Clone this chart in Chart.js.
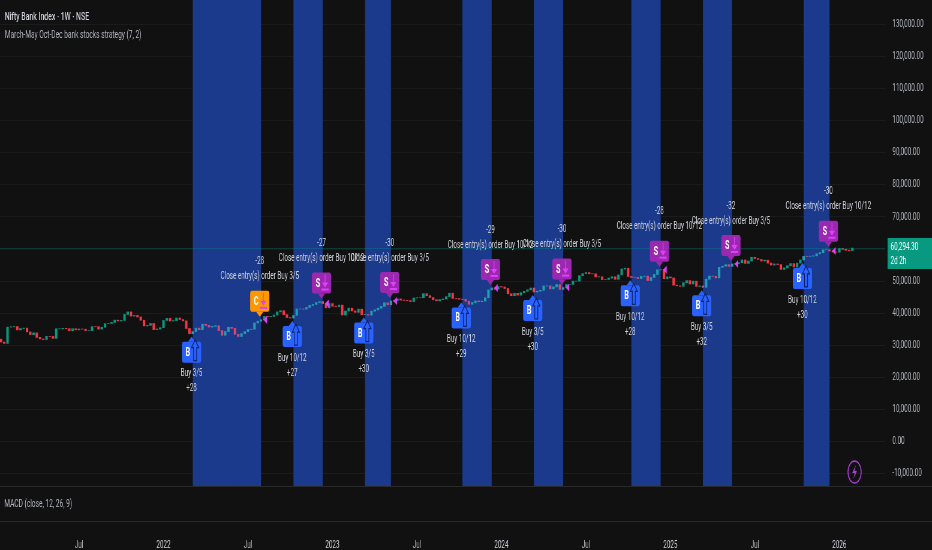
<!DOCTYPE html>
<html>
<head>
<meta charset="utf-8">
<title>Nifty Bank Index 1W</title>
<script src="https://cdn.jsdelivr.net/npm/chart.js@4.4.1/dist/chart.umd.min.js"></script>
<style>
  html, body { margin: 0; padding: 0; background: #111111; overflow: hidden; }
  #wrap { width: 932px; height: 550px; overflow: hidden; }
  /* the reference is horizontally condensed, so the chart is drawn wide and squeezed */
  #chart { display: block; transform: scaleX(0.5997); transform-origin: 0 0; }
</style>
</head>
<body>
<div id="wrap"><canvas id="chart" width="1554" height="550"></canvas></div>
<script>
// weekly closes, one per week starting 2021-01-18
const firstOpen = 31900;
const closes = [
  // 2021
  31000, 30570, 35650, 35750, 35840, 34800, 35230, 35340, 34160, 33320,
  33860, 32450, 31980, 31780, 32780, 32740, 32170, 35140, 35140, 35290,
  35170, 34560, 35160, 34810, 35070, 35020, 34580, 34580, 35810, 35800,
  35030, 35620, 36740, 36800, 37120, 37830, 37580, 37750, 39600, 40400,
  39100, 39300, 38830, 37800, 36030, 36200, 36800, 34860, 35050, 35480,
  // 2022
  37740, 38370, 37570, 37690, 38490, 38020, 37600, 35230, 33600, 34270,
  35330, 34860, 36570, 36200, 35690, 35860, 36090, 34590, 33120, 34280,
  35610, 35270, 33400, 32740, 33630, 34250, 34920, 35000, 36950, 37490,
  37920, 38990, 38900, 38990, 39420, 40420, 40780, 39550, 38630, 38490,
  39300, 41300, 41300, 41260, 41780, 42440, 42730, 43340, 43630, 42990,
  41670, 42990,
  // 2023
  42190, 42080, 42510, 39440, 40670, 41560, 40700, 40260, 41250, 39560,
  39600, 39400, 40610, 41040, 41560, 42120, 43230, 42660, 43790, 43970,
  44440, 44080, 43990, 43940, 43620, 44750, 44820, 44820, 46080, 45470,
  44880, 44200, 43850, 44230, 44440, 45160, 46230, 44610, 44580, 44360,
  44290, 43750, 42780, 43320, 43820, 43580, 43770, 44810, 47260, 47870,
  47490, 48290,
  // 2024
  48160, 47710, 46060, 45440, 46200, 45630, 46380, 46810, 47290, 47840,
  46600, 46860, 47120, 48490, 48560, 47570, 48200, 48920, 47420, 47980,
  48970, 48980, 50000, 50000, 51700, 52340, 52660, 52280, 52270, 51300,
  51350, 50480, 50520, 50930, 51350, 50580, 51940, 53790, 54000, 51460,
  51170, 51160, 50790, 51480, 51560, 50180, 51140, 52060, 53510, 53580,
  50760, 51310, 50990,
  // 2025
  48730, 48540, 48370, 49510, 50160, 49100, 49980, 48340, 48500, 48060,
  50590, 51560, 51500, 51000, 54290, 54660, 55120, 54600, 55350, 55400,
  55750, 56580, 55530, 56250, 57440, 57030, 56750, 56280, 56530, 55620,
  55000, 55340, 55150, 53650, 54110, 54800, 55460, 54390, 55590, 56600,
  57710, 57700, 57780, 57880, 58520, 58870, 59750, 59780, 59390, 59070,
  59010, 60150,
  // 2026
  59900, 59600, 59500, 60294.30
];

// strategy trades (week index of entry / exit)
const entryWeeks = [59, 90, 112, 142, 164, 194, 216, 247];
const exitWeeks = [80, 99, 120, 151, 173, 203, 225, 255];
const orderNames = ['Buy 3/5', 'Buy 10/12', 'Buy 3/5', 'Buy 10/12', 'Buy 3/5', 'Buy 10/12', 'Buy 3/5', 'Buy 10/12'];
const orderQty = [28, 27, 30, 29, 30, 28, 32, 30];
const exitKinds = ['C', 'S', 'S', 'S', 'S', 'S', 'S', 'S'];

// axes
const priceTicks = [-10000, 0, 10000, 20000, 30000, 40000, 50000, 60000, 70000,
  80000, 90000, 100000, 110000, 120000, 130000];
const tickWeeks = [24, 50, 76, 102, 128, 154, 180, 206, 232, 258];
const tickLabels = ['Jul', '2022', 'Jul', '2023', 'Jul', '2024', 'Jul', '2025', 'Jul', '2026'];

const UP = '#089981';
const DOWN = '#f23645';
const UP_IN = '#1f9fb0';   // candles seen through the position band
const DOWN_IN = '#d9476f';
const BAND = '#1c3a8c';
const TEXT = '#d1d4dc';
const AXIS_TEXT = '#b2b5be';
const GRID = '#1b1b1b';
const PANE_BOTTOM = 486;
const FONT = 'Roboto';

Chart.defaults.font.family = FONT;

const candles = closes.map((c, i) => ({ x: i, y: [i ? closes[i - 1] : firstOpen, c] }));

function inPosition(i) {
  return entryWeeks.some((e, k) => i >= e && i <= exitWeeks[k]);
}

function roundRect(ctx, x, y, w, h, r) {
  ctx.beginPath();
  ctx.moveTo(x + r, y);
  ctx.lineTo(x + w - r, y);
  ctx.quadraticCurveTo(x + w, y, x + w, y + r);
  ctx.lineTo(x + w, y + h - r);
  ctx.quadraticCurveTo(x + w, y + h, x + w - r, y + h);
  ctx.lineTo(x + r, y + h);
  ctx.quadraticCurveTo(x, y + h, x, y + h - r);
  ctx.lineTo(x, y + r);
  ctx.quadraticCurveTo(x, y, x + r, y);
  ctx.closePath();
}

function drawEntry(ctx, cx, tip, k) {
  ctx.fillStyle = '#2962ff';
  ctx.beginPath();
  ctx.moveTo(cx, tip);
  ctx.lineTo(cx + 6, tip + 5);
  ctx.lineTo(cx - 6, tip + 5);
  ctx.closePath();
  ctx.fill();
  roundRect(ctx, cx - 16, tip + 5, 32, 21, 3);
  ctx.fill();

  ctx.fillStyle = '#ffffff';
  ctx.font = 'bold 12px ' + FONT;
  ctx.textAlign = 'center';
  ctx.textBaseline = 'middle';
  ctx.fillText('B', cx - 6, tip + 16);

  // up arrow outline
  const ax = cx + 6;
  ctx.strokeStyle = '#0d2060';
  ctx.lineWidth = 1.2;
  ctx.beginPath();
  ctx.moveTo(ax, tip + 3);
  ctx.lineTo(ax + 6, tip + 11);
  ctx.lineTo(ax + 2.5, tip + 11);
  ctx.lineTo(ax + 2.5, tip + 24);
  ctx.lineTo(ax - 2.5, tip + 24);
  ctx.lineTo(ax - 2.5, tip + 11);
  ctx.lineTo(ax - 6, tip + 11);
  ctx.closePath();
  ctx.stroke();

  ctx.fillStyle = TEXT;
  ctx.font = '10.5px ' + FONT;
  ctx.fillText(orderNames[k], cx, tip + 37);
  ctx.fillText('+' + orderQty[k], cx, tip + 52);
}

function drawExit(ctx, cx, tip, k) {
  const kind = exitKinds[k];
  ctx.fillStyle = kind === 'C' ? '#ff9800' : '#9c27b0';
  ctx.beginPath();
  ctx.moveTo(cx, tip);
  ctx.lineTo(cx + 6, tip - 5);
  ctx.lineTo(cx - 6, tip - 5);
  ctx.closePath();
  ctx.fill();
  roundRect(ctx, cx - 16, tip - 26, 32, 21, 3);
  ctx.fill();

  ctx.fillStyle = '#ffffff';
  ctx.font = 'bold 12px ' + FONT;
  ctx.textAlign = 'center';
  ctx.textBaseline = 'middle';
  ctx.fillText(kind, cx - 6, tip - 15);

  // exit icon: arrow down into a tray
  const ax = cx + 6;
  ctx.strokeStyle = '#e040fb';
  ctx.fillStyle = '#e040fb';
  ctx.lineWidth = 1.4;
  ctx.beginPath();
  ctx.moveTo(ax, tip - 24);
  ctx.lineTo(ax, tip - 15);
  ctx.stroke();
  ctx.beginPath();
  ctx.moveTo(ax - 5, tip - 16);
  ctx.lineTo(ax + 5, tip - 16);
  ctx.lineTo(ax, tip - 11);
  ctx.closePath();
  ctx.fill();
  ctx.fillRect(ax - 6, tip - 10, 12, 2);

  ctx.fillStyle = TEXT;
  ctx.font = '10.5px ' + FONT;
  ctx.fillText('Close entry(s) order ' + orderNames[k], cx, tip - 40);
  ctx.fillText('-' + orderQty[k], cx, tip - 55);
}

const overlay = {
  id: 'overlay',
  beforeDatasetsDraw(chart) {
    const { ctx, chartArea, scales: { x } } = chart;
    ctx.save();
    ctx.fillStyle = BAND;
    entryWeeks.forEach((e, k) => {
      const x1 = x.getPixelForValue(e);
      const x2 = x.getPixelForValue(exitWeeks[k]);
      ctx.fillRect(x1, chartArea.top, x2 - x1, PANE_BOTTOM - chartArea.top);
    });
    ctx.restore();
  },
  afterDatasetsDraw(chart) {
    const { ctx, chartArea, width, scales: { x, y } } = chart;
    ctx.save();

    // last price line
    const last = closes[closes.length - 1];
    const ly = Math.round(y.getPixelForValue(last)) + 0.5;
    ctx.strokeStyle = 'rgba(8,153,129,0.3)';
    ctx.lineWidth = 1;
    ctx.beginPath();
    ctx.moveTo(chartArea.left, ly);
    ctx.lineTo(chartArea.right, ly);
    ctx.stroke();

    // small close triangles at the exit bars
    ctx.fillStyle = '#e040fb';
    exitWeeks.forEach(w => {
      const px = x.getPixelForValue(w) + 4;
      const py = y.getPixelForValue(closes[w]);
      ctx.beginPath();
      ctx.moveTo(px, py);
      ctx.lineTo(px + 6, py - 4);
      ctx.lineTo(px + 6, py + 4);
      ctx.closePath();
      ctx.fill();
    });

    // trade markers
    entryWeeks.forEach((w, k) => {
      const low = Math.min(candles[w].y[0], candles[w].y[1]);
      drawEntry(ctx, x.getPixelForValue(w) - 2, y.getPixelForValue(low) + 3, k);
    });
    exitWeeks.forEach((w, k) => {
      const high = Math.max(candles[w].y[0], candles[w].y[1]);
      drawExit(ctx, x.getPixelForValue(w) - 2, y.getPixelForValue(high) - 3, k);
    });

    // pane separators
    ctx.strokeStyle = '#2a2a2a';
    ctx.lineWidth = 1;
    ctx.beginPath();
    ctx.moveTo(0, PANE_BOTTOM + 0.5);
    ctx.lineTo(width, PANE_BOTTOM + 0.5);
    ctx.moveTo(0, chartArea.bottom + 0.5);
    ctx.lineTo(width, chartArea.bottom + 0.5);
    ctx.stroke();

    // titles
    ctx.textAlign = 'left';
    ctx.textBaseline = 'middle';
    ctx.fillStyle = TEXT;
    ctx.font = '500 11.5px ' + FONT;
    ctx.fillText('Nifty Bank Index \u00b7 1W \u00b7 NSE', 8, 17);
    ctx.fillStyle = AXIS_TEXT;
    ctx.font = '11px ' + FONT;
    ctx.fillText('March-May Oct-Dec bank stocks strategy (7, 2)', 8, 35);
    ctx.fillText('MACD (close, 12, 26, 9)', 7, 504);

    // last price label
    ctx.fillStyle = UP;
    ctx.fillRect(chartArea.right + 4, ly - 10.5, width - chartArea.right - 4, 31);
    ctx.fillStyle = '#ffffff';
    ctx.font = '10.5px ' + FONT;
    ctx.fillText(last.toLocaleString('en-US', { minimumFractionDigits: 2, maximumFractionDigits: 2 }), chartArea.right + 9, ly - 1);
    ctx.fillText('2d 2h', chartArea.right + 9, ly + 13);

    // lightning badge
    const cx = 1425, cy = 472;
    ctx.strokeStyle = '#a83fd0';
    ctx.lineWidth = 1.5;
    ctx.beginPath();
    ctx.arc(cx, cy, 11, 0, Math.PI * 2);
    ctx.stroke();
    ctx.fillStyle = '#a83fd0';
    ctx.beginPath();
    ctx.moveTo(cx + 2, cy - 7);
    ctx.lineTo(cx - 4, cy + 1);
    ctx.lineTo(cx, cy + 1);
    ctx.lineTo(cx - 2, cy + 7);
    ctx.lineTo(cx + 4, cy - 1);
    ctx.lineTo(cx, cy - 1);
    ctx.closePath();
    ctx.fill();

    ctx.restore();
  }
};

new Chart(document.getElementById('chart'), {
  type: 'bar',
  data: {
    datasets: [{
      data: candles,
      backgroundColor: c => {
        if (!c.raw) return UP;
        const up = c.raw.y[1] >= c.raw.y[0];
        if (inPosition(c.raw.x)) return up ? UP_IN : DOWN_IN;
        return up ? UP : DOWN;
      },
      barThickness: 3.4,
      borderWidth: 0,
      grouped: false
    }]
  },
  options: {
    responsive: false,
    animation: false,
    layout: { padding: 0 },
    plugins: { legend: { display: false }, tooltip: { enabled: false } },
    scales: {
      x: {
        type: 'linear',
        offset: false,
        min: -0.31,
        max: 272.1,
        afterBuildTicks: s => { s.ticks = tickWeeks.map(v => ({ value: v })); },
        afterFit: s => { s.height = 29; s.paddingLeft = 0; s.paddingRight = 0; },
        grid: { display: false },
        border: { display: false },
        ticks: {
          color: c => (tickLabels[c.index] === 'Jul' ? AXIS_TEXT : TEXT),
          font: { size: 10.5 },
          padding: 10,
          autoSkip: false,
          maxRotation: 0,
          callback: v => tickLabels[tickWeeks.indexOf(v)]
        }
      },
      y: {
        position: 'right',
        min: -24780,
        max: 137630,
        afterBuildTicks: s => { s.ticks = priceTicks.map(v => ({ value: v })); },
        afterFit: s => { s.width = 78; s.paddingTop = 0; s.paddingBottom = 0; },
        grid: { color: GRID, drawTicks: false },
        border: { display: false },
        ticks: {
          color: AXIS_TEXT,
          font: { size: 10.5 },
          padding: 12,
          callback: v => v.toLocaleString('en-US', { minimumFractionDigits: 2, maximumFractionDigits: 2 })
        }
      }
    }
  },
  plugins: [overlay]
});
</script>
</body>
</html>
